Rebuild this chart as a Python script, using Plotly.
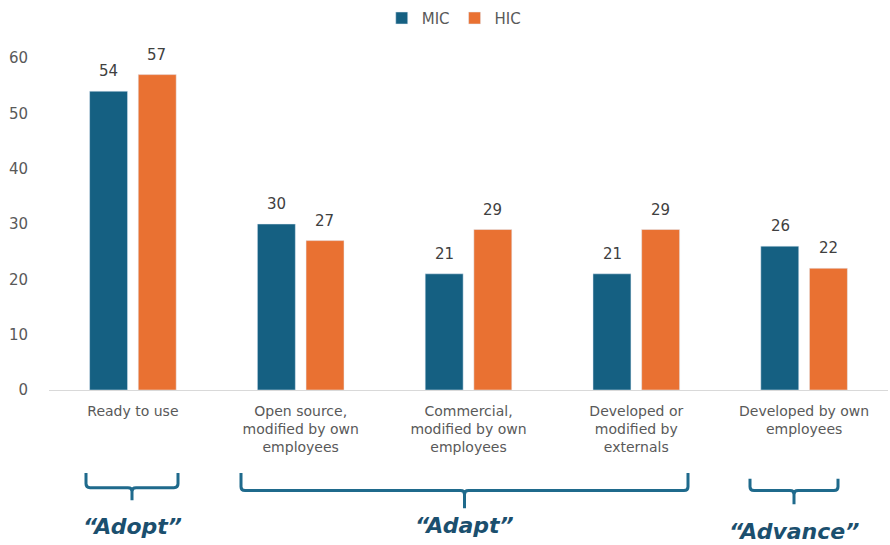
import plotly.graph_objects as go

# Survey shares (%) by how AI solutions are sourced
categories = [
    "Ready to use",
    "Open source,<br>modified by own<br>employees",
    "Commercial,<br>modified by own<br>employees",
    "Developed or<br>modified by<br>externals",
    "Developed by own<br>employees",
]
mic_values = [54, 30, 21, 21, 26]
hic_values = [57, 27, 29, 29, 22]
y_ticks = [0, 10, 20, 30, 40, 50, 60]

# Group labels shown under the axis, with brace extents in pixels
group_labels = ["\u201cAdopt\u201d", "\u201cAdapt\u201d", "\u201cAdvance\u201d"]
brace_left = [86, 241, 750]
brace_right = [178, 688, 838]
brace_top = [475, 475, 481]
brace_line = [490, 493, 493]
brace_stem = [503, 511, 507]
label_y = [530, 529, 535]

MIC_COLOR = "#156082"
HIC_COLOR = "#E97132"
BRACE_COLOR = "#1f6a8c"
LABEL_COLOR = "#1b4f6e"
FONT = "DejaVu Sans"

W, H = 890, 545
ML, MR, MT, MB = 49, 2, 50, 155
PW, PH = W - ML - MR, H - MT - MB


def px(x):
    return (x - ML) / PW


def py(y):
    return (H - MB - y) / PH


fig = go.Figure()
fig.add_trace(go.Bar(name="MIC", x=categories, y=mic_values, marker_color=MIC_COLOR))
fig.add_trace(go.Bar(name="HIC", x=categories, y=hic_values, marker_color=HIC_COLOR))

shapes = []
annotations = []

# Value labels placed above each bar (bars sit ±24 px from the category centre)
for series, shift in ((mic_values, -24), (hic_values, 24)):
    for cat, val in zip(categories, series):
        annotations.append(dict(
            x=cat, y=val, xref="x", yref="y", text=str(val), showarrow=False,
            xshift=shift, yshift=20, yanchor="middle",
            font=dict(family=FONT, size=15, color="#404040"),
        ))

for label, x0, x1, top, h, stem, ty in zip(group_labels, brace_left, brace_right,
                                          brace_top, brace_line, brace_stem, label_y):
    xm = (x0 + x1) / 2
    r = 4
    path = (
        f"M {px(x0)},{py(top)} L {px(x0)},{py(h - r)} Q {px(x0)},{py(h)} {px(x0 + r)},{py(h)} "
        f"L {px(xm - r)},{py(h)} Q {px(xm)},{py(h)} {px(xm)},{py(h + r)} L {px(xm)},{py(stem)} "
        f"M {px(x1)},{py(top)} L {px(x1)},{py(h - r)} Q {px(x1)},{py(h)} {px(x1 - r)},{py(h)} "
        f"L {px(xm + r)},{py(h)} Q {px(xm)},{py(h)} {px(xm)},{py(h + r)}"
    )
    shapes.append(dict(type="path", xref="paper", yref="paper", path=path,
                       line=dict(color=BRACE_COLOR, width=3)))
    annotations.append(dict(
        text=f"<b><i>{label}</i></b>", xref="paper", yref="paper",
        x=px(xm), y=py(ty), showarrow=False, xanchor="center", yanchor="middle",
        font=dict(family=FONT, size=22, color=LABEL_COLOR),
    ))

fig.update_layout(
    width=W, height=H,
    margin=dict(l=ML, r=MR, t=MT, b=MB),
    paper_bgcolor="white", plot_bgcolor="white",
    barmode="group", bargap=0.42, bargroupgap=0.22,
    showlegend=True,
    legend=dict(orientation="h", x=0.483, xanchor="center", y=1.07, yanchor="bottom",
                font=dict(family=FONT, size=15, color="#595959"),
                itemwidth=30, traceorder="normal"),
    font=dict(family=FONT, size=14, color="#595959"),
    shapes=shapes,
    annotations=annotations,
)
fig.update_xaxes(showgrid=False, showline=True, linecolor="#d9d9d9", linewidth=1,
                 ticks="outside", ticklen=8, tickcolor="rgba(0,0,0,0)",
                 tickfont=dict(family=FONT, size=14, color="#595959"))
fig.update_yaxes(range=[0, 60], tickvals=y_ticks, showgrid=False, zeroline=False,
                 showline=False, ticks="outside", ticklen=17, tickcolor="rgba(0,0,0,0)",
                 tickfont=dict(family=FONT, size=15, color="#595959"))

fig.write_html("out.html")
